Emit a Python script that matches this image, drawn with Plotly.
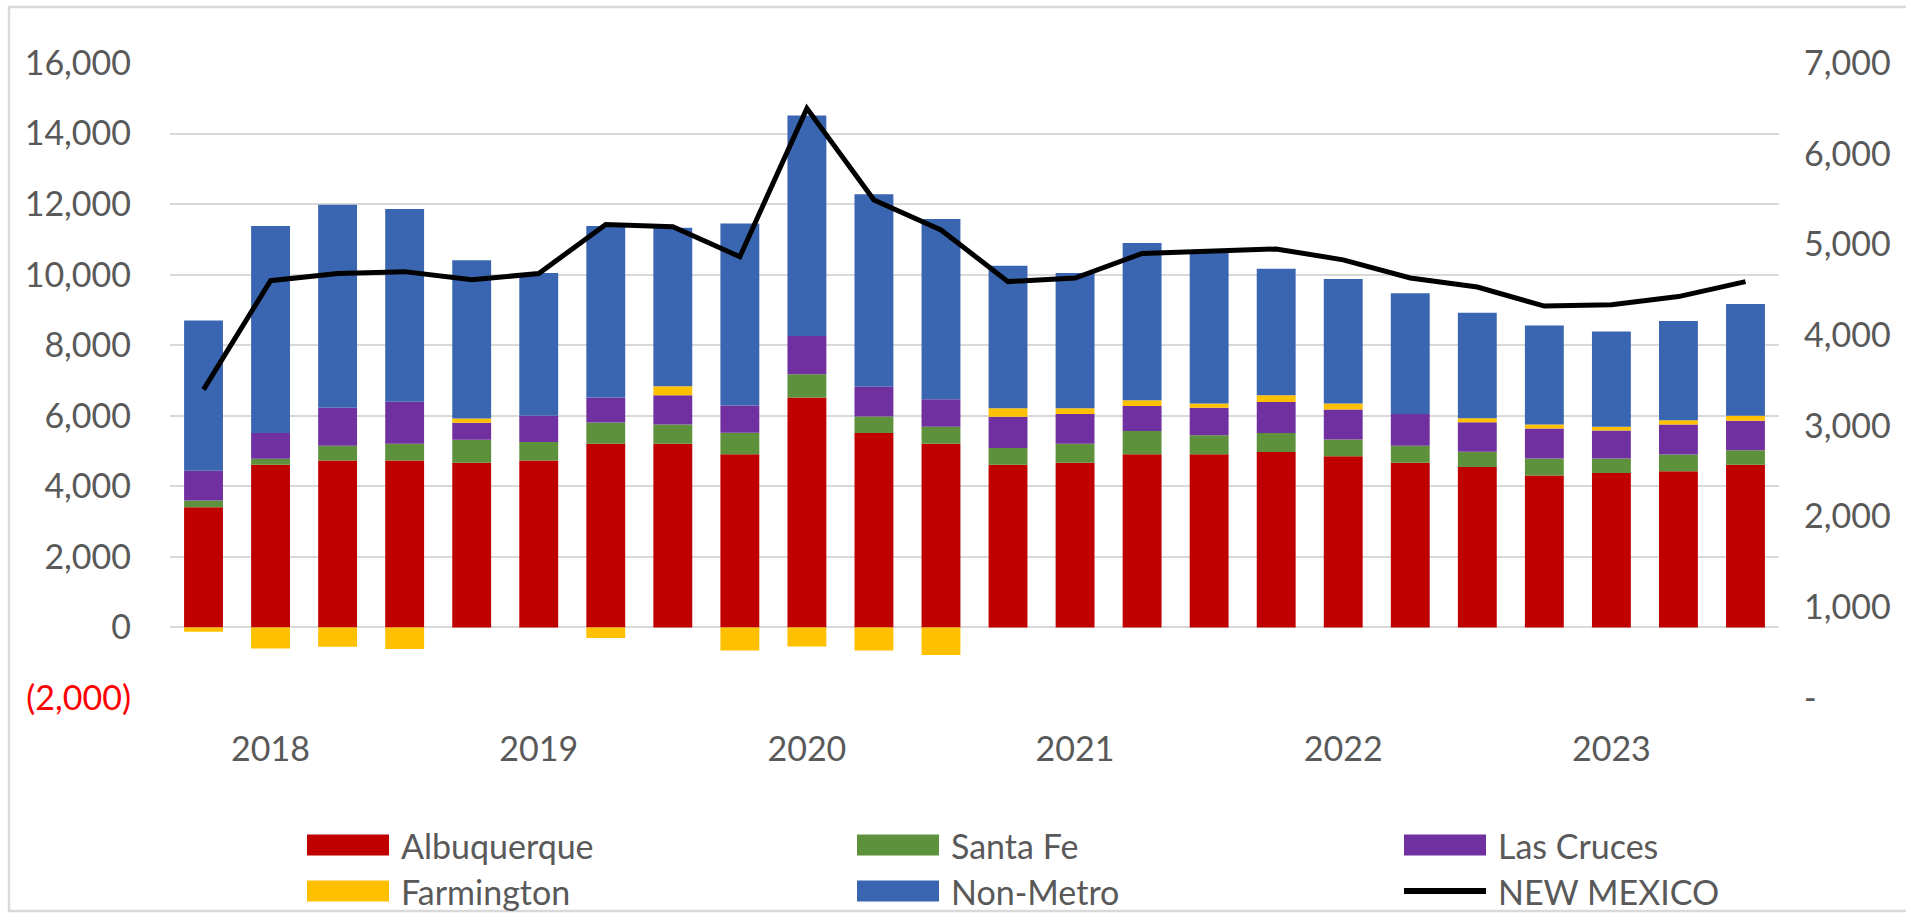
import plotly.graph_objects as go

# quarterly series
quarters = ["2018 Q1", "2018 Q2", "2018 Q3", "2018 Q4",
            "2019 Q1", "2019 Q2", "2019 Q3", "2019 Q4",
            "2020 Q1", "2020 Q2", "2020 Q3", "2020 Q4",
            "2021 Q1", "2021 Q2", "2021 Q3", "2021 Q4",
            "2022 Q1", "2022 Q2", "2022 Q3", "2022 Q4",
            "2023 Q1", "2023 Q2", "2023 Q3", "2023 Q4"]
years = ["2018", "2019", "2020", "2021", "2022", "2023"]

albuquerque = [3410, 4610, 4730, 4730, 4670, 4730, 5210, 5210, 4910, 6520, 5510, 5210,
               4610, 4670, 4910, 4910, 4970, 4850, 4670, 4550, 4310, 4380, 4430, 4610]
santa_fe = [190, 170, 420, 480, 650, 530, 600, 540, 610, 660, 470, 480,
            480, 540, 660, 540, 540, 480, 480, 430, 480, 410, 470, 410]
las_cruces = [840, 730, 1080, 1190, 480, 740, 710, 830, 770, 1080, 840, 780,
              880, 840, 710, 780, 880, 850, 900, 840, 850, 790, 850, 840]
farmington = [-120, -600, -550, -610, 120, 0, -300, 260, -650, -540, -650, -780,
              240, 160, 160, 120, 190, 170, 0, 110, 110, 110, 120, 140]
non_metro = [4260, 5870, 5750, 5460, 4490, 4050, 4860, 4490, 5160, 6250, 5460, 5110,
             4040, 3840, 4460, 4320, 3590, 3530, 3420, 2990, 2810, 2700, 2820, 3170]
new_mexico = [3400, 4600, 4680, 4700, 4610, 4680, 5220, 5195, 4865, 6500, 5490, 5160,
              4590, 4630, 4900, 4920, 4950, 4830, 4630, 4530, 4320, 4335, 4425, 4590]

left_ticks = [-2000, 0, 2000, 4000, 6000, 8000, 10000, 12000, 14000, 16000]
left_text = ['<span style="color:#FF0000">(2,000)</span>', "0", "2,000", "4,000", "6,000",
             "8,000", "10,000", "12,000", "14,000", "16,000"]
right_ticks = [0, 1000, 2000, 3000, 4000, 5000, 6000, 7000]
right_text = ["-", "1,000", "2,000", "3,000", "4,000", "5,000", "6,000", "7,000"]

series = [("Albuquerque", albuquerque, "#C00000"),
          ("Santa Fe", santa_fe, "#5D913B"),
          ("Las Cruces", las_cruces, "#7030A0"),
          ("Farmington", farmington, "#FFC000"),
          ("Non-Metro", non_metro, "#3A65B1")]

W, H = 1906, 913
L, R, T, B = 170, 127, 63, 215
FONT = "Lato"
GREY = "#595959"


def px_x(px):
    return (px - L) / (W - L - R)


def px_y(py):
    return (H - B - py) / (H - T - B)


fig = go.Figure()
for name, vals, col in series:
    fig.add_trace(go.Bar(x=quarters, y=vals, name=name, marker_color=col,
                         marker_line_width=0))

fig.add_trace(go.Scatter(x=quarters, y=new_mexico, name="NEW MEXICO", mode="lines",
                         line=dict(color="black", width=5), yaxis="y2"))

# hand-placed legend (wide swatches like the Excel original)
shapes = []
annotations = []
legend_items = [("Albuquerque", "#C00000", 307, 845), ("Santa Fe", "#5D913B", 857, 845),
                ("Las Cruces", "#7030A0", 1404, 845), ("Farmington", "#FFC000", 307, 891),
                ("Non-Metro", "#3A65B1", 857, 891), ("NEW MEXICO", "black", 1404, 891)]
for name, col, x0, yc in legend_items:
    if name == "NEW MEXICO":
        shapes.append(dict(type="line", xref="paper", yref="paper",
                           x0=px_x(x0), x1=px_x(x0 + 82), y0=px_y(yc), y1=px_y(yc),
                           line=dict(color=col, width=6)))
    else:
        shapes.append(dict(type="rect", xref="paper", yref="paper",
                           x0=px_x(x0), x1=px_x(x0 + 82), y0=px_y(yc - 10.5), y1=px_y(yc + 10.5),
                           fillcolor=col, line=dict(width=0)))
    annotations.append(dict(text=name, xref="paper", yref="paper", x=px_x(x0 + 92), y=px_y(yc),
                            xanchor="left", yanchor="middle", showarrow=False,
                            font=dict(family=FONT, size=34, color=GREY)))

# chart border
shapes.append(dict(type="rect", xref="paper", yref="paper",
                   x0=px_x(9), x1=px_x(1925), y0=px_y(911), y1=px_y(7),
                   line=dict(color="#D9D9D9", width=2.5), fillcolor="rgba(0,0,0,0)"))

fig.update_layout(
    width=W, height=H,
    margin=dict(l=L, r=R, t=T, b=B),
    barmode="relative",
    bargap=0.42,
    showlegend=False,
    paper_bgcolor="white",
    plot_bgcolor="white",
    font=dict(family=FONT, size=34, color=GREY),
    shapes=shapes,
    annotations=annotations,
    xaxis=dict(tickmode="array", tickvals=quarters[1::4], ticktext=years,
               showgrid=False, showline=False, ticks="", ticklabelstandoff=28,
               tickfont=dict(size=34, color=GREY)),
    yaxis=dict(range=[-2000, 16000], tickmode="array", tickvals=left_ticks, ticktext=left_text,
               showgrid=True, gridcolor="#D9D9D9", gridwidth=2, zeroline=False,
               showline=False, ticks="", ticklabelstandoff=38,
               tickfont=dict(size=34, color=GREY)),
    yaxis2=dict(range=[0, 7000], overlaying="y", side="right", tickmode="array",
                tickvals=right_ticks, ticktext=right_text, showgrid=False, zeroline=False,
                showline=False, ticks="", ticklabelstandoff=24,
                tickfont=dict(size=34, color=GREY)),
)

# drop the browser's default body margin so the figure sits at the page corner
fig.write_html("out.html", config={"displayModeBar": False},
               post_script="document.body.style.margin='0px';")
